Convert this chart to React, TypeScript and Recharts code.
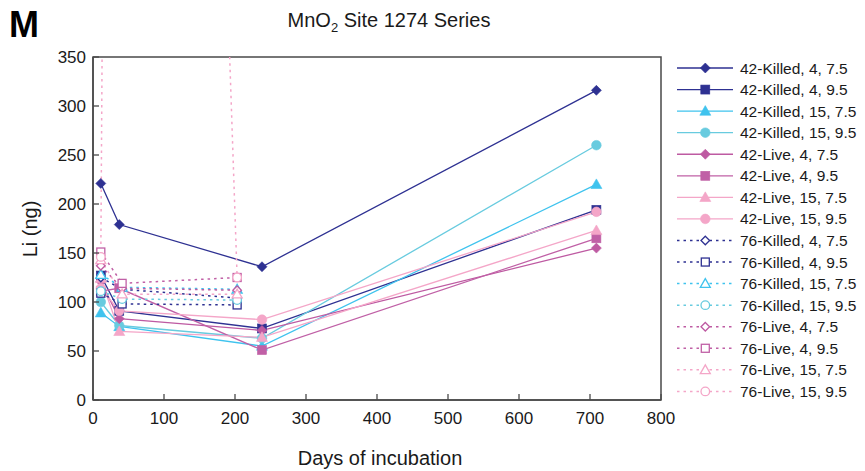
import React from 'react';
import { LineChart, Line, XAxis, YAxis, ReferenceArea, Legend } from 'recharts';

// ---- data ----
const days42 = [11, 37, 238, 709];
const days76 = [11, 41, 203];

const killed42_4_75 = [221, 179, 136, 316];
const killed42_4_95 = [127, 91, 73, 194];
const killed42_15_75 = [89, 75, 55, 220];
const killed42_15_95 = [100, 76, 63, 260];
const live42_4_75 = [121, 83, 71, 155];
const live42_4_95 = [111, 114, 51, 165];
const live42_15_75 = [124, 70, 64, 173];
const live42_15_95 = [114, 91, 82, 192];

const killed76_4_75 = [125, 113, 104];
const killed76_4_95 = [109, 98, 97];
const killed76_15_75 = [128, 115, 113];
const killed76_15_95 = [111, 103, 102];
const live76_4_75 = [137, 114, 112];
const live76_4_95 = [151, 119, 125];
const live76_15_75 = [143, 108, 108];
const live76_15_95 = [146, 3600, 125];

const xTicks = [0, 100, 200, 300, 400, 500, 600, 700, 800];
const yTicks = [0, 50, 100, 150, 200, 250, 300, 350];

const NAVY = '#2E3192';
const SKY = '#3FC3EE';
const TEAL = '#68CBDF';
const MAG = '#BE5AA2';
const MAG2 = '#C060A6';
const PINK = '#F4A6C8';

type Shape = 'diamond' | 'square' | 'triangle' | 'circle';
interface S { name: string; days: number[]; values: number[]; color: string; shape: Shape; filled: boolean; dashed: boolean; }

const series: S[] = [
  { name: '42-Killed, 4, 7.5', days: days42, values: killed42_4_75, color: NAVY, shape: 'diamond', filled: true, dashed: false },
  { name: '42-Killed, 4, 9.5', days: days42, values: killed42_4_95, color: NAVY, shape: 'square', filled: true, dashed: false },
  { name: '42-Killed, 15, 7.5', days: days42, values: killed42_15_75, color: SKY, shape: 'triangle', filled: true, dashed: false },
  { name: '42-Killed, 15, 9.5', days: days42, values: killed42_15_95, color: TEAL, shape: 'circle', filled: true, dashed: false },
  { name: '42-Live, 4, 7.5', days: days42, values: live42_4_75, color: MAG, shape: 'diamond', filled: true, dashed: false },
  { name: '42-Live, 4, 9.5', days: days42, values: live42_4_95, color: MAG2, shape: 'square', filled: true, dashed: false },
  { name: '42-Live, 15, 7.5', days: days42, values: live42_15_75, color: PINK, shape: 'triangle', filled: true, dashed: false },
  { name: '42-Live, 15, 9.5', days: days42, values: live42_15_95, color: PINK, shape: 'circle', filled: true, dashed: false },
  { name: '76-Killed, 4, 7.5', days: days76, values: killed76_4_75, color: NAVY, shape: 'diamond', filled: false, dashed: true },
  { name: '76-Killed, 4, 9.5', days: days76, values: killed76_4_95, color: NAVY, shape: 'square', filled: false, dashed: true },
  { name: '76-Killed, 15, 7.5', days: days76, values: killed76_15_75, color: SKY, shape: 'triangle', filled: false, dashed: true },
  { name: '76-Killed, 15, 9.5', days: days76, values: killed76_15_95, color: TEAL, shape: 'circle', filled: false, dashed: true },
  { name: '76-Live, 4, 7.5', days: days76, values: live76_4_75, color: MAG, shape: 'diamond', filled: false, dashed: true },
  { name: '76-Live, 4, 9.5', days: days76, values: live76_4_95, color: MAG2, shape: 'square', filled: false, dashed: true },
  { name: '76-Live, 15, 7.5', days: days76, values: live76_15_75, color: PINK, shape: 'triangle', filled: false, dashed: true },
  { name: '76-Live, 15, 9.5', days: days76, values: live76_15_95, color: PINK, shape: 'circle', filled: false, dashed: true },
];

const FONT = '"Liberation Sans", Arial, Helvetica, sans-serif';
const AXIS = '#4a4a4a';

function Marker({ cx, cy, shape, color, filled }: { cx: number; cy: number; shape: Shape; color: string; filled: boolean }) {
  const fill = filled ? color : '#ffffff';
  const sw = filled ? 0.6 : 1.3;
  if (cx == null || cy == null || isNaN(cx) || isNaN(cy)) return null;
  if (shape === 'diamond') {
    const r = filled ? 5 : 4.3;
    return <polygon points={`${cx},${cy - r} ${cx + r},${cy} ${cx},${cy + r} ${cx - r},${cy}`} fill={fill} stroke={color} strokeWidth={sw} />;
  }
  if (shape === 'square') {
    const h = filled ? 4.5 : 4;
    return <rect x={cx - h} y={cy - h} width={2 * h} height={2 * h} fill={fill} stroke={color} strokeWidth={sw} />;
  }
  if (shape === 'triangle') {
    const r = filled ? 5.5 : 5;
    return <polygon points={`${cx},${cy - r} ${cx + r},${cy + r * 0.75} ${cx - r},${cy + r * 0.75}`} fill={fill} stroke={color} strokeWidth={sw} />;
  }
  return <circle cx={cx} cy={cy} r={filled ? 4.8 : 4.3} fill={fill} stroke={color} strokeWidth={sw} />;
}

const XTick = (props: any) => {
  const { x, y, payload } = props;
  return (
    <g>
      <line x1={x} x2={x} y1={y} y2={y - 6} stroke={AXIS} strokeWidth={1.3} />
      <text x={x} y={y + 24} textAnchor="middle" fontFamily={FONT} fontSize={17} fill="#1a1a1a">{payload.value}</text>
    </g>
  );
};

const YTick = (props: any) => {
  const { x, y, payload } = props;
  return (
    <g>
      <line x1={x} x2={x + 6} y1={y} y2={y} stroke={AXIS} strokeWidth={1.3} />
      <text x={x - 7} y={y + 6} textAnchor="end" fontFamily={FONT} fontSize={17} fill="#1a1a1a">{payload.value}</text>
    </g>
  );
};

const ROW = 21.56;
const LegendBox = () => (
  <svg width={189} height={345} style={{ display: 'block' }}>
    {series.map((s, i) => {
      const cy = 11 + i * ROW;
      return (
        <g key={s.name}>
          <line x1={1} x2={57} y1={cy} y2={cy} stroke={s.color} strokeWidth={s.dashed ? 1.5 : 1.3} strokeDasharray={s.dashed ? '2.5 4' : undefined} />
          <Marker cx={29.3} cy={cy} shape={s.shape} color={s.color} filled={s.filled} />
          <text x={64} y={cy + 5.5} fontFamily={FONT} fontSize={15.5} fill="#1a1a1a">{s.name}</text>
        </g>
      );
    })}
  </svg>
);

export default function App() {
  return (
    <div style={{ position: 'absolute', left: 0, top: 0, width: 865, height: 471, background: '#fff' }}>
      <LineChart width={865} height={471} margin={{ top: 57, right: 204, bottom: 41, left: 0 }}>
        <XAxis type="number" dataKey="x" domain={[0, 800]} ticks={xTicks} allowDataOverflow
          axisLine={{ stroke: AXIS, strokeWidth: 1.5 }} tickLine={false} tickSize={0} tickMargin={0} height={30} tick={<XTick />} interval={0} />
        <YAxis type="number" dataKey="y" domain={[0, 350]} ticks={yTicks} allowDataOverflow
          axisLine={{ stroke: AXIS, strokeWidth: 1.5 }} tickLine={false} tickSize={0} tickMargin={0} width={93} tick={<YTick />} interval={0} />
        <ReferenceArea x1={0} x2={800} y1={0} y2={350} fill="none" stroke={AXIS} strokeWidth={1.5} ifOverflow="visible" />
        {series.map((s) => (
          <Line key={s.name} data={s.days.map((d, i) => ({ x: d, y: s.values[i] }))} dataKey="y" name={s.name}
            stroke={s.color} strokeWidth={s.dashed ? 1.5 : 1.3} strokeDasharray={s.dashed ? '2.5 4' : undefined}
            isAnimationActive={false} legendType="none"
            dot={(p: any) => <Marker key={`${s.name}-${p.index}`} cx={p.cx} cy={p.cy} shape={s.shape} color={s.color} filled={s.filled} />}
            activeDot={false} />
        ))}
        <Legend layout="vertical" align="center" verticalAlign="middle"
          wrapperStyle={{ left: 676, top: 57, width: 189, height: 345 }} content={() => <LegendBox />} />
      </LineChart>
      <svg width={865} height={471} style={{ position: 'absolute', left: 0, top: 0, pointerEvents: 'none' }}>
        <text x={9} y={37} fontFamily={FONT} fontWeight="bold" fontSize={36} fill="#000">M</text>
        <text x={389} y={27} textAnchor="middle" fontFamily={FONT} fontSize={20} fill="#1a1a1a">
          MnO<tspan fontSize={13} dy={5}>2</tspan><tspan dy={-5}> Site 1274 Series</tspan>
        </text>
        <text x={380} y={465} textAnchor="middle" fontFamily={FONT} fontSize={20} fill="#1a1a1a">Days of incubation</text>
        <text transform="translate(37,229) rotate(-90)" textAnchor="middle" fontFamily={FONT} fontSize={20} fill="#1a1a1a">Li (ng)</text>
      </svg>
    </div>
  );
}
